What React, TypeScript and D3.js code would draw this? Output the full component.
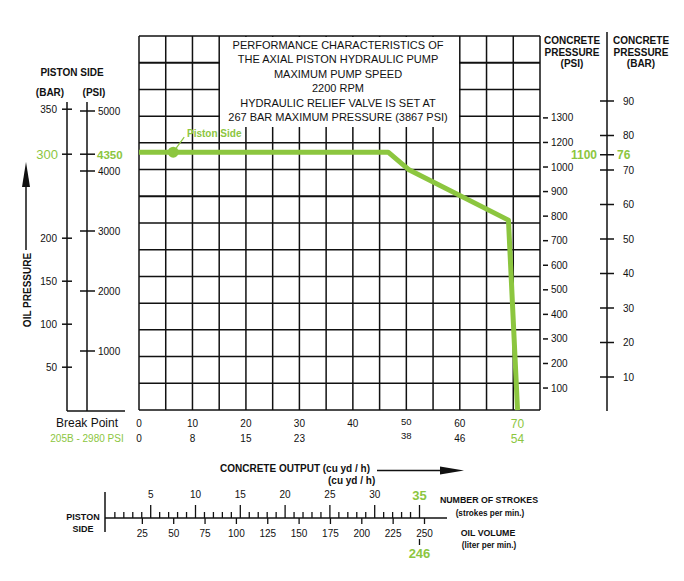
import React from "react";
import * as d3 from "d3";

// concrete output (cu yd/h) labels and matching m3/h row
const outputTicks = [0, 10, 20, 30, 40, 50, 60];
const secondRowLabels = ["0", "8", "15", "23", "", "38", "46"];

// piston side pump curve: concrete output vs oil pressure (bar)
const curveOutput = [0, 46.6, 50.4, 69.1, 70.8];
const curveOilBar = [300, 300, 280, 221, 0];
const pistonSideDot = 6.4;

// left axes
const oilBarTicks = [50, 100, 150, 200, 350];
const oilPsiTicks = [1000, 2000, 3000, 4000, 5000];

// right axes
const concretePsiLabels = ["100", "200", "300", "400", "500", "600", "700", "800", "900", "1000", "1200", "1300"];
const concreteBarTicks = [10, 20, 30, 40, 50, 60, 70, 80, 90];

// bottom scale
const strokeLabels = [5, 10, 15, 20, 25, 30];
const volumeTicks = [25, 50, 75, 100, 125, 150, 175, 200, 225, 250];

// break point values
const breakBar = 300;
const breakPsi = 4350;
const breakConcretePsi = "1100";
const breakConcreteBar = 76;
const breakOutput = "70";
const breakCuYd = "54";
const breakStrokes = 35;
const breakVolume = 246;

const titleLines = [
  "PERFORMANCE CHARACTERISTICS OF",
  "THE AXIAL PISTON HYDRAULIC PUMP",
  "MAXIMUM PUMP SPEED",
  "2200 RPM",
  "HYDRAULIC RELIEF VALVE IS SET AT",
  "267 BAR MAXIMUM PRESSURE (3867 PSI)",
];

const GREEN = "#8cc63f";
const FONT = "'Liberation Sans', Arial, Helvetica, sans-serif";

const App: React.FC = () => {
  const W = 684;
  const H = 581;

  const gx = d3.scaleLinear().domain([0, 15]).range([139, 540]);
  const gy = d3.scaleLinear().domain([0, 14]).range([36, 410]);
  const x = d3.scaleLinear().domain([0, 75]).range([139, 540]);
  const yOilBar = d3.scaleLinear().domain([0, 350]).range([410.2, 109.2]);
  const yOilPsi = d3.scaleLinear().domain([0, 5000]).range([411, 111]);
  const yConcPsiSlot = d3.scaleLinear().domain([0, 12]).range([412.6, 117.9]);
  const yConcBar = d3.scaleLinear().domain([0, 90]).range([411.5, 101]);
  const xStroke = d3.scaleLinear().domain([0, 35]).range([105.9, 419.5]);
  const xVolume = d3.scaleLinear().domain([0, 250]).range([111, 424.5]);

  const line = d3
    .line<number>()
    .x((d) => x(d))
    .y((_, i) => yOilBar(curveOilBar[i]));

  const cols = d3.range(16);
  const rows = d3.range(15);
  const endX = x(curveOutput[curveOutput.length - 1]);
  const flatY = yOilBar(breakBar);
  const dotX = x(pistonSideDot);
  // 1100 psi sits half way between the 1000 and 1200 ticks
  const concBreakY = yConcPsiSlot(10.5);
  const leftBreakY = flatY + 2;

  const minorStrokes = d3.range(1, 35).filter((s) => s % 5 !== 0);
  const majorStrokes = d3.range(5, 36, 5);

  const baseY = 518;
  const leftBarX = 67;
  const leftPsiX = 87;
  const rightBarX = 607;

  return (
    <svg
      width={W}
      height={H}
      style={{ position: "absolute", left: 0, top: 0, background: "#fff" }}
      fontFamily={FONT}
    >
      <rect width={W} height={H} fill="#fff" />

      {/* grid */}
      <g stroke="#111" strokeWidth={1.5}>
        {cols.map((c) => (
          <line key={"c" + c} x1={gx(c)} x2={gx(c)} y1={gy(0)} y2={gy(14)} />
        ))}
        {rows.map((r) => (
          <line
            key={"r" + r}
            x1={gx(0)}
            x2={gx(15)}
            y1={gy(r)}
            y2={gy(r)}
            strokeWidth={r === 1 || r === 6 ? 2 : 1.5}
          />
        ))}
      </g>

      {/* title box */}
      <rect x={gx(3) + 0.8} y={37} width={gx(12) - gx(3) - 1.6} height={90} fill="#fff" />
      <g fontSize={11} fill="#111" textAnchor="middle">
        {titleLines.map((t, i) => (
          <text key={t} x={338} y={49 + i * 14.4}>
            {t}
          </text>
        ))}
      </g>

      {/* curve */}
      <path
        d={line(curveOutput) || ""}
        fill="none"
        stroke={GREEN}
        strokeWidth={5}
        strokeLinejoin="round"
      />
      <circle cx={dotX} cy={flatY} r={5.5} fill={GREEN} />
      <line x1={dotX} y1={flatY} x2={dotX + 11} y2={flatY - 15} stroke={GREEN} strokeWidth={1.2} />
      <text x={187} y={137} fontSize={10} fontWeight="bold" fill={GREEN}>
        Piston Side
      </text>

      {/* x labels */}
      <g fontSize={10} fill="#111" textAnchor="middle">
        {outputTicks.map((v, i) => (
          <g key={v}>
            <text x={x(v)} y={v === 50 ? 425 : 427} fontSize={v === 50 ? 9.5 : 10}>
              {v}
            </text>
            <text x={x(v)} y={v === 50 ? 439 : 442} fontSize={v === 50 ? 9.5 : 10}>
              {secondRowLabels[i]}
            </text>
          </g>
        ))}
        <text x={endX} y={427.5} fontSize={12} fill={GREEN}>
          {breakOutput}
        </text>
        <text x={endX} y={443} fontSize={12} fill={GREEN}>
          {breakCuYd}
        </text>
      </g>

      {/* left axes */}
      <text x={72} y={76} fontSize={10} fontWeight="bold" textAnchor="middle" fill="#111">
        PISTON SIDE
      </text>
      <text x={50} y={96} fontSize={10} fontWeight="bold" textAnchor="middle" fill="#111">
        (BAR)
      </text>
      <text x={94} y={96} fontSize={10} fontWeight="bold" textAnchor="middle" fill="#111">
        (PSI)
      </text>
      <g stroke="#111" strokeWidth={1.5}>
        <line x1={leftBarX} x2={leftBarX} y1={102} y2={411} />
        <line x1={leftPsiX} x2={leftPsiX} y1={102} y2={411} />
        <line x1={leftBarX} x2={125} y1={411} y2={411} />
        {oilBarTicks.map((v) => (
          <line key={v} x1={leftBarX - 5} x2={leftBarX + 5} y1={yOilBar(v)} y2={yOilBar(v)} />
        ))}
        <line x1={leftBarX - 5} x2={leftBarX + 5} y1={leftBreakY} y2={leftBreakY} />
        {oilPsiTicks.map((v) => (
          <line key={v} x1={leftPsiX - 7} x2={leftPsiX + 8} y1={yOilPsi(v)} y2={yOilPsi(v)} />
        ))}
        <line x1={leftPsiX - 7} x2={leftPsiX + 8} y1={leftBreakY} y2={leftBreakY} />
      </g>
      <g fontSize={10} fill="#111">
        {oilBarTicks.map((v) => (
          <text key={v} x={57} y={yOilBar(v) + 3.5} textAnchor="end">
            {v}
          </text>
        ))}
        {oilPsiTicks.map((v) => (
          <text key={v} x={98} y={yOilPsi(v) + 3.5}>
            {v}
          </text>
        ))}
      </g>
      <text x={58} y={leftBreakY + 5} fontSize={13} fill={GREEN} textAnchor="end">
        {breakBar}
      </text>
      <text x={97} y={leftBreakY + 4.5} fontSize={11.5} fontWeight="bold" fill={GREEN}>
        {breakPsi}
      </text>

      {/* oil pressure label + arrow */}
      <text
        transform="translate(31,290) rotate(-90)"
        fontSize={10}
        fontWeight="bold"
        textAnchor="middle"
        fill="#111"
      >
        OIL PRESSURE
      </text>
      <line x1={26} x2={26} y1={250} y2={184} stroke="#111" strokeWidth={1.5} />
      <path d="M26,162 L22,187 L30,187 Z" fill="#111" />

      <text x={87} y={427} fontSize={12} textAnchor="middle" fill="#111">
        Break Point
      </text>
      <text x={87} y={442} fontSize={10} textAnchor="middle" fill={GREEN}>
        205B - 2980 PSI
      </text>

      {/* right axes */}
      <g fontSize={10} fontWeight="bold" textAnchor="middle" fill="#111">
        <text x={572} y={44}>CONCRETE</text>
        <text x={572} y={55.5}>PRESSURE</text>
        <text x={572} y={66.5}>(PSI)</text>
        <text x={641} y={44}>CONCRETE</text>
        <text x={641} y={55.5}>PRESSURE</text>
        <text x={641} y={66.5}>(BAR)</text>
      </g>
      <g stroke="#111" strokeWidth={1.5}>
        {concretePsiLabels.map((l, i) => (
          <line key={l} x1={543} x2={548} y1={yConcPsiSlot(i + 1)} y2={yConcPsiSlot(i + 1)} />
        ))}
        <line x1={rightBarX} x2={rightBarX} y1={32} y2={411} />
        {concreteBarTicks.map((v) => (
          <line key={v} x1={rightBarX - 7} x2={rightBarX + 7} y1={yConcBar(v)} y2={yConcBar(v)} />
        ))}
        <line x1={rightBarX - 7} x2={rightBarX + 7} y1={concBreakY} y2={concBreakY} />
      </g>
      <g fontSize={10} fill="#111">
        {concretePsiLabels.map((l, i) => (
          <text key={l} x={551} y={yConcPsiSlot(i + 1) + 3.5}>
            {l}
          </text>
        ))}
        {concreteBarTicks.map((v) => (
          <text key={v} x={623} y={yConcBar(v) + 3.5}>
            {v}
          </text>
        ))}
      </g>
      <text x={597} y={concBreakY + 4.5} fontSize={12} fontWeight="bold" textAnchor="end" fill={GREEN}>
        {breakConcretePsi}
      </text>
      <text x={617} y={concBreakY + 4.5} fontSize={12} fontWeight="bold" fill={GREEN}>
        {breakConcreteBar}
      </text>

      {/* concrete output title */}
      <text x={220} y={471.5} fontSize={10} fontWeight="bold" fill="#111">
        CONCRETE OUTPUT  (cu yd / h)
      </text>
      <text x={328} y={484} fontSize={10} fontWeight="bold" fill="#111">
        (cu yd / h)
      </text>
      <line x1={377} x2={445} y1={470.5} y2={470.5} stroke="#111" strokeWidth={1.5} />
      <path d="M464,470.5 L440,466.5 L440,474.5 Z" fill="#111" />

      {/* bottom scale */}
      <text x={83} y={519.5} fontSize={9} fontWeight="bold" textAnchor="middle" fill="#111">
        PISTON
      </text>
      <text x={83} y={532} fontSize={9} fontWeight="bold" textAnchor="middle" fill="#111">
        SIDE
      </text>
      <g stroke="#111" strokeWidth={1.3}>
        <line x1={105} x2={105} y1={492} y2={532} strokeWidth={1.5} />
        <line x1={105} x2={447} y1={baseY} y2={baseY} strokeWidth={1.5} />
        {minorStrokes.map((s) => (
          <line key={"m" + s} x1={xStroke(s)} x2={xStroke(s)} y1={baseY - 6} y2={baseY} />
        ))}
        {majorStrokes.map((s) => (
          <line key={"M" + s} x1={xStroke(s)} x2={xStroke(s)} y1={baseY - 13} y2={baseY} />
        ))}
        {volumeTicks.map((v) => (
          <line key={"v" + v} x1={xVolume(v)} x2={xVolume(v)} y1={baseY} y2={baseY + 6} />
        ))}
        <line x1={xVolume(breakVolume)} x2={xVolume(breakVolume)} y1={539} y2={545} />
      </g>
      <g fontSize={10} fill="#111" textAnchor="middle">
        {strokeLabels.map((s) => (
          <text key={s} x={xStroke(s)} y={497.5}>
            {s}
          </text>
        ))}
        {volumeTicks.map((v) => (
          <text key={v} x={xVolume(v)} y={537}>
            {v}
          </text>
        ))}
      </g>
      <text x={xStroke(breakStrokes)} y={500} fontSize={13} fontWeight="bold" textAnchor="middle" fill={GREEN}>
        {breakStrokes}
      </text>
      <text x={xVolume(breakVolume)} y={558} fontSize={13} fontWeight="bold" textAnchor="middle" fill={GREEN}>
        {breakVolume}
      </text>

      <g fontWeight="bold" textAnchor="middle" fill="#111">
        <text x={489} y={502.5} fontSize={8.8}>
          NUMBER OF STROKES
        </text>
        <text x={490} y={515.5} fontSize={8.2}>
          (strokes per min.)
        </text>
        <text x={488} y={535.5} fontSize={8.8}>
          OIL VOLUME
        </text>
        <text x={489} y={547.5} fontSize={8.2}>
          (liter per min.)
        </text>
      </g>
    </svg>
  );
};

export default App;
